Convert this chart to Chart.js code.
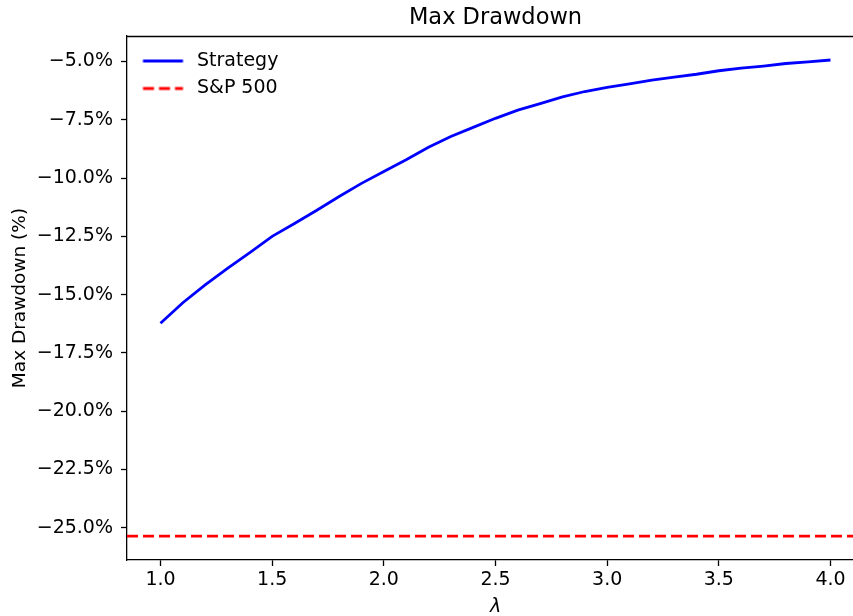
<!DOCTYPE html>
<html><head><meta charset="utf-8">
<script src="https://cdn.jsdelivr.net/npm/chart.js@4.4.0/dist/chart.umd.min.js"></script>
<style>html,body{margin:0;padding:0;background:#fff;overflow:hidden;width:853px;height:616px;}</style>
</head><body>
<canvas id="c" width="990" height="616" style="display:block;width:990px;height:616px;"></canvas>
<script>
// ---- data ----
const lambdas = [1.0,1.1,1.2,1.3,1.4,1.5,1.6,1.7,1.8,1.9,2.0,2.1,2.2,2.3,2.4,2.5,2.6,2.7,2.8,2.9,3.0,3.1,3.2,3.3,3.4,3.5,3.6,3.7,3.8,3.9,4.0];
const strategyDD = [-16.23,-15.35,-14.58,-13.87,-13.20,-12.50,-11.95,-11.38,-10.79,-10.23,-9.72,-9.22,-8.68,-8.22,-7.83,-7.44,-7.09,-6.81,-6.52,-6.29,-6.11,-5.96,-5.80,-5.67,-5.55,-5.40,-5.29,-5.20,-5.09,-5.02,-4.94];
const sp500DD = -25.36;
const xTicks = [1.0,1.5,2.0,2.5,3.0,3.5,4.0];
const yTicks = [-5,-7.5,-10,-12.5,-15,-17.5,-20,-22.5,-25];
const xLimits = [0.85, 4.15];
const yLimits = [-26.38, -3.91];
const seriesNames = ['Strategy','S&P 500'];
const titleText = 'Max Drawdown';
const xLabel = 'λ';
const yLabel = 'Max Drawdown (%)';

const FONT = "'DejaVu Sans', sans-serif";
const BLUE = '#0000ff', RED = '#ff0000';
const LW = 2.8;
const RED_DASH = [11, 5];

function swatch(color, dash) {
  const c = document.createElement('canvas');
  c.width = 52; c.height = 6;
  const g = c.getContext('2d');
  g.strokeStyle = color; g.lineWidth = LW; g.setLineDash(dash);
  g.beginPath(); g.moveTo(7.5, 3); g.lineTo(47.5, 3); g.stroke();
  return c;
}

const frame = {
  id: 'frame',
  afterDraw(chart) {
    const {ctx, chartArea} = chart;
    ctx.save();
    ctx.strokeStyle = '#000'; ctx.lineWidth = 1.3;
    ctx.beginPath();
    ctx.moveTo(chartArea.left, chartArea.top + 0.5);
    ctx.lineTo(chartArea.right, chartArea.top + 0.5);
    ctx.lineTo(chartArea.right, chartArea.bottom);
    ctx.stroke();
    ctx.restore();
  }
};

new Chart(document.getElementById('c'), {
  type: 'scatter',
  data: {
    datasets: [
      {
        label: seriesNames[0],
        data: lambdas.map((l, i) => ({x: l, y: strategyDD[i]})),
        showLine: true, borderColor: BLUE, backgroundColor: BLUE,
        borderWidth: LW, pointRadius: 0, tension: 0
      },
      {
        label: seriesNames[1],
        data: xLimits.map(l => ({x: l, y: sp500DD})),
        showLine: true, borderColor: RED, backgroundColor: RED,
        borderWidth: LW, borderDash: RED_DASH, pointRadius: 0, tension: 0
      }
    ]
  },
  options: {
    responsive: false,
    animation: false,
    devicePixelRatio: 1,
    layout: {padding: {left: 0, top: 0, bottom: 0, right: 126}},
    plugins: {
      title: {
        display: true, text: titleText, color: '#000', fullSize: false,
        font: {family: FONT, size: 22.5, weight: 'normal'},
        padding: {top: 4.5, bottom: 4.5}
      },
      legend: {
        position: 'chartArea', align: 'start',
        title: {display: true, text: ' ', font: {size: 1}, padding: {top: 0, bottom: 41.8}},
        labels: {
          usePointStyle: true, pointStyleWidth: 52, padding: 8.5,
          color: '#000', font: {family: FONT, size: 19},
          generateLabels: () => [
            {text: seriesNames[0], fontColor: '#000', pointStyle: swatch(BLUE, []), fillStyle: BLUE, strokeStyle: BLUE, lineWidth: 0, datasetIndex: 0, hidden: false},
            {text: seriesNames[1], fontColor: '#000', pointStyle: swatch(RED, RED_DASH), fillStyle: RED, strokeStyle: RED, lineWidth: 0, datasetIndex: 1, hidden: false}
          ]
        }
      },
      tooltip: {enabled: false}
    },
    scales: {
      x: {
        type: 'linear', min: xLimits[0], max: xLimits[1],
        afterBuildTicks: s => { s.ticks = xTicks.map(v => ({value: v})); },
        afterFit: s => { s.height = 56; },
        ticks: {color: '#000', font: {family: FONT, size: 19}, padding: 3,
                callback: v => Number(v).toFixed(1), maxRotation: 0, autoSkip: false},
        grid: {display: true, drawOnChartArea: false, drawTicks: true, tickLength: 6, tickWidth: 1.3, tickColor: '#000'},
        border: {display: true, color: '#000', width: 1.3},
        title: {display: true, text: xLabel, color: '#000',
                font: {family: FONT, size: 19, style: 'italic'}, padding: {top: 0, bottom: -2}}
      },
      y: {
        type: 'linear', min: yLimits[0], max: yLimits[1],
        afterBuildTicks: s => { s.ticks = yTicks.map(v => ({value: v})); },
        afterFit: s => { s.width = 127; },
        ticks: {color: '#000', font: {family: FONT, size: 19}, padding: 8,
                callback: v => (v < 0 ? '\u2212' : '') + Math.abs(v).toFixed(1) + '%', autoSkip: false},
        grid: {display: true, drawOnChartArea: false, drawTicks: true, tickLength: 6, tickWidth: 1.3, tickColor: '#000'},
        border: {display: true, color: '#000', width: 1.3},
        title: {display: true, text: yLabel, color: '#000',
                font: {family: FONT, size: 18.5}, padding: {top: 9, bottom: 0}}
      }
    }
  },
  plugins: [frame]
});
</script>
</body></html>
